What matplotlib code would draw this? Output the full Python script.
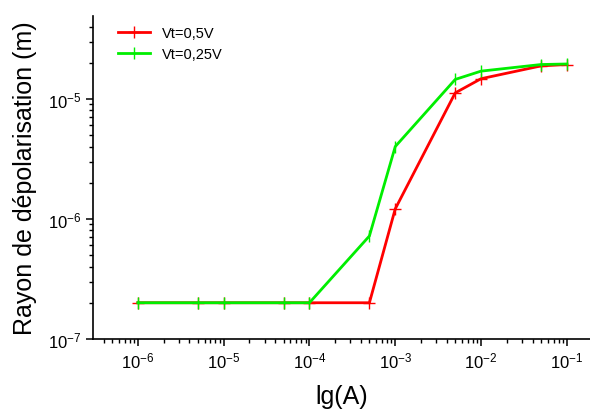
import matplotlib
matplotlib.use("Agg")
import matplotlib.pyplot as plt
from matplotlib.ticker import LogLocator, NullFormatter

plt.rcParams['font.family'] = ['Liberation Sans', 'DejaVu Sans']
plt.rcParams['mathtext.fontset'] = 'custom'
plt.rcParams['mathtext.rm'] = 'Liberation Sans'
plt.rcParams['mathtext.it'] = 'Liberation Sans:italic'
plt.rcParams['mathtext.bf'] = 'Liberation Sans:bold'

# data
current = [1e-6, 5e-6, 1e-5, 5e-5, 1e-4, 5e-4, 1e-3, 5e-3, 1e-2, 5e-2, 1e-1]
r_05 = [2e-7, 2e-7, 2e-7, 2e-7, 2e-7, 2e-7, 1.21e-6, 1.12e-5, 1.47e-5, 1.88e-5, 1.93e-5]
r_025 = [2e-7, 2e-7, 2e-7, 2e-7, 2e-7, 7.2e-7, 4.0e-6, 1.45e-5, 1.70e-5, 1.93e-5, 1.95e-5]
labels = ['Vt=0,5V', 'Vt=0,25V']

fig = plt.figure(figsize=(5.9, 4.14), dpi=100)
ax = fig.add_axes([0.158, 0.179, 0.842, 0.780])

ax.plot(current, r_05, color='#ff0000', lw=2, marker='+', ms=8,
        mew=1, label=labels[0])
ax.plot(current, r_025, color='#00ee00', lw=2, marker='|', ms=9,
        mew=1, label=labels[1])

ax.set_xscale('log')
ax.set_yscale('log')
ax.set_xlim(10**-6.52, 10**-0.73)
ax.set_ylim(1e-7, 10**-4.31)

ax.xaxis.set_major_locator(LogLocator(base=10, numticks=10))
ax.xaxis.set_minor_locator(LogLocator(base=10, subs=range(2, 10), numticks=20))
ax.yaxis.set_major_locator(LogLocator(base=10, numticks=10))
ax.yaxis.set_minor_locator(LogLocator(base=10, subs=range(2, 10), numticks=20))
ax.xaxis.set_minor_formatter(NullFormatter())
ax.yaxis.set_minor_formatter(NullFormatter())

for s in ['top', 'right']:
    ax.spines[s].set_visible(False)
for s in ['left', 'bottom']:
    ax.spines[s].set_linewidth(1.2)

ax.tick_params(which='major', direction='out', length=5, width=1.1,
               labelsize=12, colors='black')
ax.tick_params(which='minor', direction='out', length=3, width=1)

ax.set_xlabel('lg(A)', fontsize=18, labelpad=10)
ax.set_ylabel('Rayon de dépolarisation (m)', fontsize=18, labelpad=8)

ax.legend(loc='upper left', frameon=False, fontsize=10.5, handlelength=2.2,
          borderaxespad=0.3, bbox_to_anchor=(0.03, 1.0))

fig.savefig('out.png', dpi=100)
